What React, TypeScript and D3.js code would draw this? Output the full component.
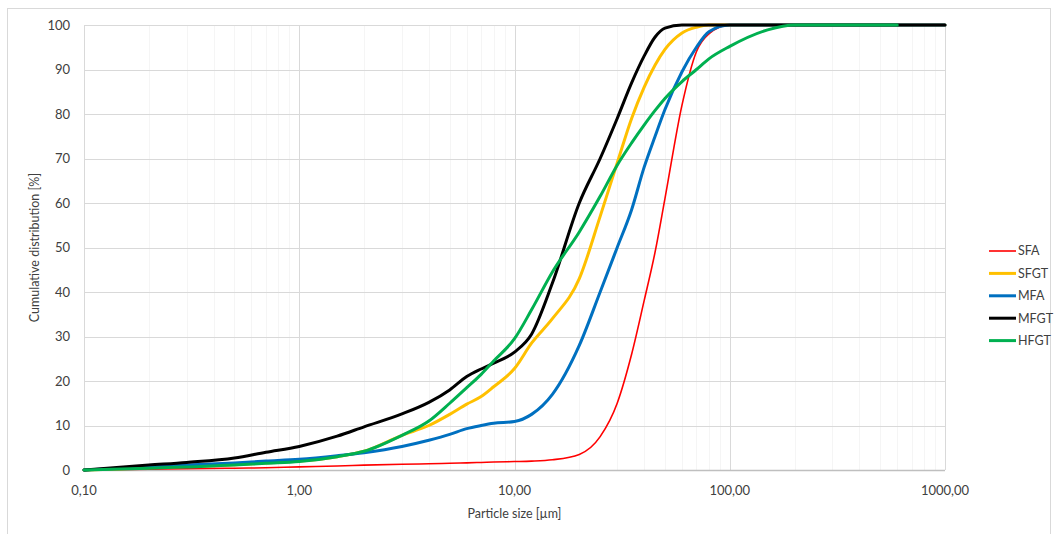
import React, { useRef, useEffect } from "react";
import * as d3 from "d3";

// particle sizes [µm] where the curves were read
const sizes = [0.1, 0.2, 0.3, 0.5, 0.7, 1, 1.5, 2, 3, 4, 5, 6, 7, 8, 10, 12, 15, 20, 25, 30, 35, 40, 45, 50, 60, 70, 80, 100, 150, 200, 600, 1000];

// cumulative distribution [%], null = no value
const sfa = [0, 0.2, 0.3, 0.4, 0.5, 0.7, 0.9, 1.1, 1.3, 1.4, 1.5, 1.6, 1.7, 1.8, 1.9, 2.0, 2.3, 3.5, 7.5, 15, 26, 38, 49, 61, 82, 94, 98, 100, 100, 100, 100, 100];
const sfgt = [0, 0.5, 0.8, 1.2, 1.6, 2.0, 3.0, 4.2, 7.8, 10, 12.5, 14.8, 16.5, 18.7, 22.8, 28.5, 34, 43, 57, 69, 79, 86, 91, 94.5, 98.2, 99.5, 100, 100, 100, 100, 100, 100];
const mfa = [0, 0.7, 1.1, 1.6, 2.0, 2.4, 3.2, 3.9, 5.3, 6.7, 8.0, 9.3, 10.0, 10.5, 10.9, 12.5, 17, 28, 40, 50, 58.5, 68, 75, 81, 89.5, 95, 98.5, 100, 100, 100, 100, 100];
const mfgt = [0, 1.1, 1.7, 2.7, 4.0, 5.3, 7.6, 9.7, 12.6, 15.2, 18, 21, 22.7, 24, 26.5, 30.5, 42, 60, 70, 79, 87, 93, 97.3, 99.3, 100, 100, 100, 100, 100, 100, 100, 100];
const hfgt = [0, 0.4, 0.7, 1.1, 1.5, 1.9, 3.0, 4.2, 7.8, 11, 15, 18.5, 21.5, 24.5, 29.5, 36, 44.5, 53.5, 61.5, 68.5, 73.5, 77.5, 80.8, 83.5, 87.3, 90, 92.4, 95.2, 98.9, 100, 100, null];

const seriesNames = ["SFA", "SFGT", "MFA", "MFGT", "HFGT"];
const seriesValues = [sfa, sfgt, mfa, mfgt, hfgt];
const seriesColors = ["#ff0000", "#ffc000", "#0070c0", "#000000", "#00b050"];
const seriesWidths = [1.6, 3, 3, 3, 3];

const yTicks = [0, 10, 20, 30, 40, 50, 60, 70, 80, 90, 100];
const xTicks = [0.1, 1, 10, 100, 1000];
const xTickLabels = ["0,10", "1,00", "10,00", "100,00", "1000,00"];

const W = 1059;
const H = 534;
const FONT = "Lato, 'Open Sans', sans-serif";

export default function App() {
  const svgRef = useRef<SVGSVGElement>(null);

  useEffect(() => {
    const svg = d3.select(svgRef.current);
    svg.selectAll("*").remove();

    const margin = { top: 25, right: 114, bottom: 64, left: 84 };
    const x = d3.scaleLog().domain([0.1, 1000]).range([margin.left, W - margin.right]);
    const y = d3.scaleLinear().domain([0, 100]).range([H - margin.bottom, margin.top]);

    // outer chart frame
    svg
      .append("rect")
      .attr("x", 7.5)
      .attr("y", 8.5)
      .attr("width", 1043)
      .attr("height", 540)
      .attr("fill", "#fff")
      .attr("stroke", "#d9d9d9");

    // minor vertical grid
    const minor: number[] = [];
    for (let dec = 0.1; dec < 1000; dec *= 10) {
      for (let k = 2; k <= 9; k++) minor.push(dec * k);
    }
    svg
      .append("g")
      .selectAll("line")
      .data(minor)
      .enter()
      .append("line")
      .attr("x1", (d) => Math.round(x(d)) + 0.5)
      .attr("x2", (d) => Math.round(x(d)) + 0.5)
      .attr("y1", y(100))
      .attr("y2", y(0))
      .attr("stroke", "#f5f5f5")
      .attr("stroke-width", 1);

    // major grid
    svg
      .append("g")
      .selectAll("line")
      .data(yTicks.slice(1))
      .enter()
      .append("line")
      .attr("x1", x(0.1))
      .attr("x2", x(1000))
      .attr("y1", (d) => Math.round(y(d)) + 0.5)
      .attr("y2", (d) => Math.round(y(d)) + 0.5)
      .attr("stroke", "#d9d9d9");
    svg
      .append("g")
      .selectAll("line")
      .data(xTicks)
      .enter()
      .append("line")
      .attr("x1", (d) => Math.round(x(d)) + 0.5)
      .attr("x2", (d) => Math.round(x(d)) + 0.5)
      .attr("y1", y(100))
      .attr("y2", y(0))
      .attr("stroke", "#d9d9d9");

    // x axis line
    svg
      .append("line")
      .attr("x1", x(0.1))
      .attr("x2", x(1000))
      .attr("y1", Math.round(y(0)) + 0.5)
      .attr("y2", Math.round(y(0)) + 0.5)
      .attr("stroke", "#bfbfbf")
      .attr("stroke-width", 1.5);

    // tick labels
    svg
      .append("g")
      .selectAll("text")
      .data(yTicks)
      .enter()
      .append("text")
      .attr("x", margin.left - 14)
      .attr("y", (d) => y(d))
      .attr("dy", "0.35em")
      .attr("text-anchor", "end")
      .attr("font-family", FONT)
      .attr("font-size", 13)
      .attr("fill", "#404040")
      .text((d) => d);
    svg
      .append("g")
      .selectAll("text")
      .data(xTicks)
      .enter()
      .append("text")
      .attr("x", (d) => x(d))
      .attr("y", y(0) + 25)
      .attr("text-anchor", "middle")
      .attr("font-family", FONT)
      .attr("font-size", 13)
      .attr("fill", "#404040")
      .text((d, i) => xTickLabels[i]);

    // axis titles
    svg
      .append("text")
      .attr("x", (x(0.1) + x(1000)) / 2)
      .attr("y", y(0) + 48)
      .attr("text-anchor", "middle")
      .attr("font-family", FONT)
      .attr("font-size", 12.5)
      .attr("fill", "#404040")
      .text("Particle size [µm]");
    svg
      .append("text")
      .attr("transform", `translate(39,${(y(0) + y(100)) / 2}) rotate(-90)`)
      .attr("text-anchor", "middle")
      .attr("font-family", FONT)
      .attr("font-size", 12.5)
      .attr("fill", "#404040")
      .text("Cumulative distribution [%]");

    // curves
    const line = d3
      .line<[number, number | null]>()
      .defined((d) => d[1] !== null)
      .x((d) => x(d[0]))
      .y((d) => y(d[1] as number))
      .curve(d3.curveMonotoneX);

    seriesValues.forEach((vals, i) => {
      const pts = sizes.map((s, j) => [s, vals[j]] as [number, number | null]);
      svg
        .append("path")
        .datum(pts)
        .attr("fill", "none")
        .attr("stroke", seriesColors[i])
        .attr("stroke-width", seriesWidths[i])
        .attr("stroke-linejoin", "round")
        .attr("stroke-linecap", "round")
        .attr("d", line);
    });

    // legend
    const legend = svg.append("g").attr("transform", "translate(989,251)");
    seriesNames.forEach((name, i) => {
      const g = legend.append("g").attr("transform", `translate(0,${i * 22.4})`);
      g.append("line")
        .attr("x1", 0)
        .attr("x2", 27)
        .attr("y1", 0)
        .attr("y2", 0)
        .attr("stroke", seriesColors[i])
        .attr("stroke-width", seriesWidths[i]);
      g.append("text")
        .attr("x", 29)
        .attr("y", 0)
        .attr("dy", "0.35em")
        .attr("font-family", FONT)
        .attr("font-size", 12.5)
        .attr("fill", "#404040")
        .text(name);
    });
  }, []);

  return (
    <div style={{ position: "fixed", left: 0, top: 0, width: W, height: H, background: "#fff" }}>
      <svg ref={svgRef} width={W} height={H} />
    </div>
  );
}
